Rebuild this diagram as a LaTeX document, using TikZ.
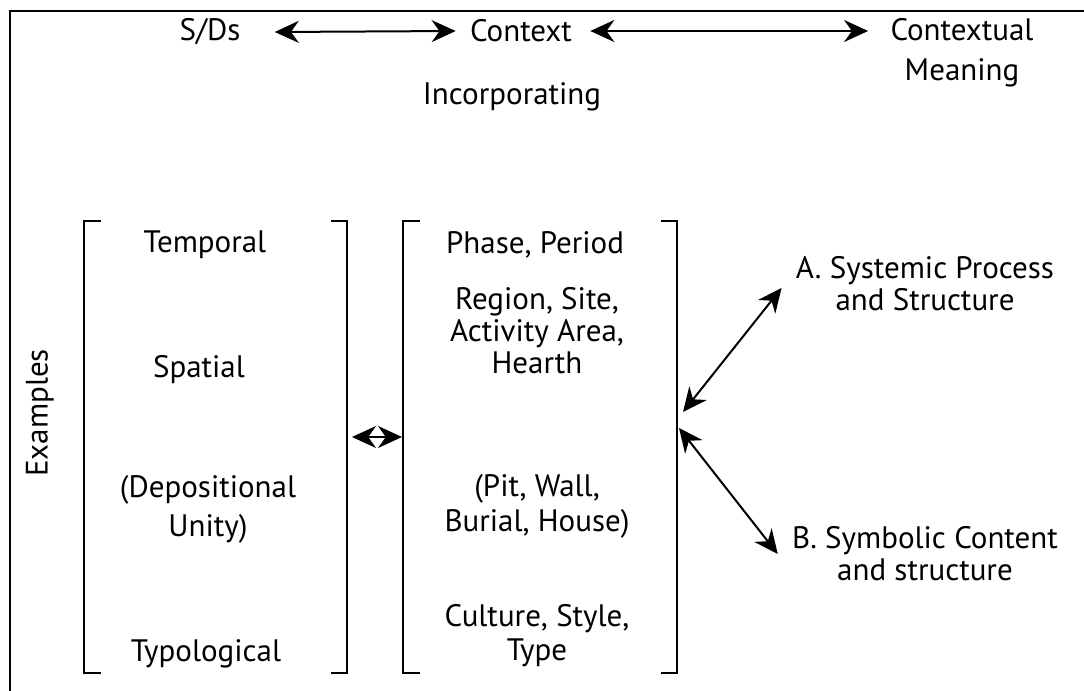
\documentclass[tikz,border=0pt]{standalone}
\usepackage{fontspec}
\setmainfont{PT Sans}
\usetikzlibrary{arrows.meta}
\begin{document}
\begin{tikzpicture}[x=0.5pt, y=-0.5pt,
		lbl/.style={
			text centered,
			align=center,
			inner sep=1pt,
			font=\fontsize{15.5}{16}\selectfont,
		},
		link/.style={
			line width=1pt,
			{Stealth[length=12pt,width=11pt]}-{Stealth[length=12pt,width=11pt]},
		},
		brack/.style={
			line width=0.9pt,
		} ]

\useasboundingbox (0,0) rectangle (1084,691);

% frame
\draw[line width=1pt] (10,691) -- (10,11) -- (1084,11);

\draw
(210,32) node[lbl] (sds) {S/Ds}
(521,31) node[lbl] (ctx) {Context}
(962,53) node[lbl] (mean) {Contextual\\[4pt]Meaning}
(512,97) node[lbl] (incorp) {Incorporating}
(40,413) node[lbl, rotate=90] (examples) {Examples}
(205,245) node[lbl] (temporal) {Temporal}
(199,370) node[lbl] (spatial) {Spatial}
(208,509) node[lbl] (depos) {(Depositional\\[3.5pt]Unity)}
(206,654) node[lbl] (typo) {Typological}
(535,245) node[lbl] (phase) {Phase, Period}
(537,331) node[lbl] (region) {Region, Site,\\Activity Area,\\Hearth}
(537,506) node[lbl] (pit) {(Pit, Wall,\\[1.5pt]Burial, House)}
(537,636) node[lbl] (culture) {Culture, Style,\\[1pt]Type}
(925,284) node[lbl] (sysA) {A. Systemic Process\\and Structure}
(925,554) node[lbl] (symB) {B. Symbolic Content\\and structure}
(352,437) coordinate[](ex_out) {}
(402,437) coordinate[](ctx_in) {}
(683,412) coordinate[](hub_up) {}
(679,428) coordinate[](hub_dn) {}
;

% brackets
\draw[brack] (101,221) -- (84,221) -- (84,673) -- (101,673);
\draw[brack] (331,221) -- (347,221) -- (347,673) -- (331,673);
\draw[brack] (420,221) -- (403,221) -- (403,673) -- (420,673);
\draw[brack] (661,221) -- (677,221) -- (677,673) -- (661,673);

\draw[link] ([xshift=16pt]sds.east) -- ([xshift=-6pt]ctx.west);
\draw[link] ([xshift=8pt]ctx.east) -- ([xshift=-10pt]ctx.east -| mean.west);
\draw[link] (ex_out) -- (ctx_in);
\draw[link] (hub_up) -- ([xshift=-6pt,yshift=-2pt]sysA.west);
\draw[link] (hub_dn) -- ([xshift=-6pt]symB.west);

\end{tikzpicture}
\end{document}
